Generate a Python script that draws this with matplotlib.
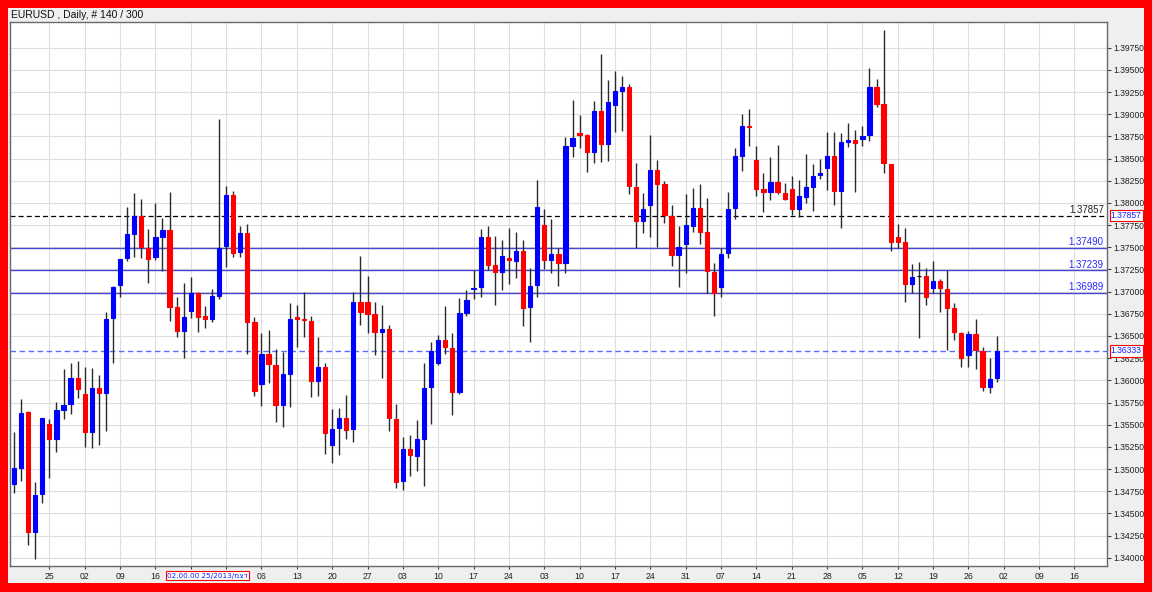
import numpy as np
import matplotlib
matplotlib.use("Agg")
import matplotlib.pyplot as plt
from matplotlib.patches import Rectangle
import matplotlib.transforms as mtransforms

# ---------------- data ----------------
opens = [1.34828, 1.35015, 1.35647, 1.34294, 1.34715, 1.35508, 1.35335, 1.35665, 1.35729, 1.36030,
         1.35846, 1.35421, 1.35910, 1.35861, 1.36699, 1.37075, 1.37375, 1.37650, 1.37856, 1.37495,
         1.37394, 1.37620, 1.37695, 1.36823, 1.36560, 1.36785, 1.36981, 1.36725, 1.36691, 1.36955,
         1.37518, 1.38089, 1.37451, 1.37657, 1.36661, 1.35955, 1.36293, 1.36173, 1.35722, 1.36068,
         1.36718, 1.36691, 1.36673, 1.35996, 1.36154, 1.35271, 1.35459, 1.35572, 1.35447, 1.36879,
         1.36879, 1.36748, 1.36541, 1.36575, 1.35560, 1.34869, 1.35222, 1.35151, 1.35335, 1.35921,
         1.36192, 1.36455, 1.36368, 1.35872, 1.36763, 1.37030, 1.37048, 1.37612, 1.37300, 1.37217,
         1.37375, 1.37345, 1.37458, 1.36823, 1.37075, 1.37751, 1.37357, 1.37424, 1.37319, 1.38645,
         1.38785, 1.38766, 1.38578, 1.39036, 1.38664, 1.39104, 1.39266, 1.39303, 1.38183, 1.37800,
         1.37977, 1.38371, 1.38213, 1.37856, 1.37413, 1.37537, 1.37744, 1.37939, 1.37668, 1.37225,
         1.37048, 1.37432, 1.37939, 1.38533, 1.38871, 1.38484, 1.38157, 1.38119, 1.38240, 1.38116,
         1.38153, 1.37928, 1.38071, 1.38183, 1.38311, 1.38390, 1.38529, 1.38138, 1.38691, 1.38709,
         1.38721, 1.38766, 1.39303, 1.39115, 1.38435, 1.37620, 1.37556, 1.37082, 1.37176, 1.37176,
         1.37037, 1.37120, 1.37030, 1.36812, 1.36530, 1.36286, 1.36518, 1.36331, 1.35929, 1.36030]
highs = [1.35414, 1.35790, 1.35650, 1.34857, 1.35580, 1.35560, 1.35752, 1.36128, 1.36192, 1.36218,
         1.36154, 1.36135, 1.36060, 1.36767, 1.37063, 1.37370, 1.37958, 1.38116, 1.38040, 1.37706,
         1.37995, 1.37826, 1.38123, 1.36943, 1.37101, 1.37169, 1.37000, 1.36838, 1.37026, 1.38942,
         1.38194, 1.38134, 1.37740, 1.37759, 1.36718, 1.36530, 1.36567, 1.36353, 1.36323, 1.36876,
         1.36849, 1.36992, 1.36725, 1.36492, 1.36191, 1.35677, 1.35684, 1.35835, 1.36992, 1.37405,
         1.37180, 1.36887, 1.36849, 1.36624, 1.35733, 1.35357, 1.35383, 1.35553, 1.36192, 1.36436,
         1.36511, 1.36838, 1.36530, 1.36924, 1.37018, 1.37244, 1.37702, 1.37740, 1.37631, 1.37582,
         1.37721, 1.37676, 1.37582, 1.37270, 1.38258, 1.37931, 1.37819, 1.37496, 1.38739, 1.39160,
         1.38991, 1.38773, 1.39153, 1.39675, 1.39386, 1.39487, 1.39435, 1.39341, 1.38454, 1.38116,
         1.38766, 1.38484, 1.38247, 1.37977, 1.37740, 1.38097, 1.38172, 1.38210, 1.38059, 1.37319,
         1.37488, 1.38120, 1.38623, 1.39003, 1.39059, 1.38642, 1.38341, 1.38514, 1.38653, 1.38228,
         1.38307, 1.38258, 1.38552, 1.38439, 1.38491, 1.38803, 1.38803, 1.38785, 1.38897, 1.38822,
         1.38867, 1.39517, 1.39397, 1.39950, 1.38440, 1.37759, 1.37721, 1.37308, 1.37330, 1.37270,
         1.37345, 1.37142, 1.37244, 1.36868, 1.36549, 1.36556, 1.36691, 1.36380, 1.36256, 1.36504]
lows = [1.34733, 1.34869, 1.34143, 1.33982, 1.34613, 1.34895, 1.35196, 1.35564, 1.35620, 1.35797,
        1.35252, 1.35241, 1.35271, 1.35429, 1.36192, 1.36936, 1.37345, 1.37394, 1.37375, 1.37093,
        1.37356, 1.37236, 1.36673, 1.36485, 1.36248, 1.36699, 1.36541, 1.36586, 1.36654, 1.36917,
        1.37281, 1.37394, 1.37394, 1.36297, 1.35823, 1.35714, 1.35966, 1.35534, 1.35478, 1.35696,
        1.36372, 1.36492, 1.35808, 1.35827, 1.35166, 1.35064, 1.35158, 1.35335, 1.35308, 1.36624,
        1.36530, 1.36285, 1.36022, 1.35429, 1.34782, 1.34763, 1.34921, 1.34978, 1.34809, 1.35508,
        1.36173, 1.36297, 1.35609, 1.35846, 1.36725, 1.36913, 1.36936, 1.37244, 1.36849, 1.37018,
        1.37082, 1.37150, 1.36616, 1.36428, 1.36936, 1.37255, 1.37206, 1.37067, 1.37214, 1.38521,
        1.38615, 1.38345, 1.38446, 1.38465, 1.38476, 1.38796, 1.38811, 1.38101, 1.37496, 1.37657,
        1.37612, 1.37499, 1.37770, 1.37289, 1.37056, 1.37206, 1.37668, 1.37537, 1.36988, 1.36725,
        1.36943, 1.37375, 1.37815, 1.38360, 1.38642, 1.38082, 1.37901, 1.38033, 1.38101, 1.38033,
        1.37864, 1.37845, 1.38003, 1.37913, 1.38266, 1.38146, 1.37977, 1.37721, 1.38627, 1.38127,
        1.38642, 1.38698, 1.39085, 1.38334, 1.37458, 1.37496, 1.36887, 1.36981, 1.36481, 1.36849,
        1.36981, 1.36774, 1.36342, 1.36455, 1.36146, 1.36146, 1.36124, 1.35880, 1.35853, 1.35985]
closes = [1.35008, 1.35635, 1.34294, 1.34707, 1.35572, 1.35339, 1.35665, 1.35722, 1.36030, 1.35902,
          1.35421, 1.35910, 1.35861, 1.36688, 1.37048, 1.37364, 1.37646, 1.37856, 1.37499, 1.37368,
          1.37612, 1.37695, 1.36830, 1.36560, 1.36718, 1.36981, 1.36710, 1.36695, 1.36951, 1.37495,
          1.38089, 1.37439, 1.37657, 1.36661, 1.35880, 1.36293, 1.36180, 1.35722, 1.36068, 1.36691,
          1.36695, 1.36680, 1.35996, 1.36154, 1.35402, 1.35451, 1.35572, 1.35440, 1.36879, 1.36767,
          1.36748, 1.36549, 1.36579, 1.35579, 1.34857, 1.35222, 1.35158, 1.35339, 1.35910, 1.36331,
          1.36455, 1.36372, 1.35872, 1.36763, 1.36906, 1.37045, 1.37612, 1.37300, 1.37217, 1.37402,
          1.37360, 1.37458, 1.36812, 1.37067, 1.37958, 1.37357, 1.37424, 1.37319, 1.38642, 1.38736,
          1.38770, 1.38578, 1.39036, 1.38664, 1.39142, 1.39262, 1.39303, 1.38191, 1.37800, 1.37932,
          1.38371, 1.38210, 1.37864, 1.37413, 1.37507, 1.37751, 1.37939, 1.37668, 1.37233, 1.36988,
          1.37424, 1.37932, 1.38533, 1.38871, 1.38852, 1.38157, 1.38119, 1.38240, 1.38119, 1.38040,
          1.37928, 1.38078, 1.38176, 1.38307, 1.38334, 1.38529, 1.38138, 1.38683, 1.38709, 1.38679,
          1.38758, 1.39303, 1.39115, 1.38446, 1.37563, 1.37563, 1.37082, 1.37169, 1.37176, 1.36936,
          1.37124, 1.37045, 1.36819, 1.36541, 1.36248, 1.36518, 1.36342, 1.35929, 1.36015, 1.36333]

# weekly date labels (Mondays), one every 5 daily bars starting at bar 5
week_labels = ["25", "02", "09", "16", "", "", "06", "13", "20", "27",
               "03", "10", "17", "24", "03", "10", "17", "24", "31", "07",
               "14", "21", "28", "05", "12", "19", "26", "02", "09", "16"]

price_ticks = [1.34000, 1.34250, 1.34500, 1.34750, 1.35000, 1.35250, 1.35500, 1.35750,
               1.36000, 1.36250, 1.36500, 1.36750, 1.37000, 1.37250, 1.37500, 1.37750,
               1.38000, 1.38250, 1.38500, 1.38750, 1.39000, 1.39250, 1.39500, 1.39750]

level_black = 1.37857
levels_blue = [1.37490, 1.37239, 1.36989]
current_price = 1.36333

title_text = "EURUSD , Daily, # 140 / 300"
cursor_label = "02.00.00 25/2013/מצד"
cursor_bar = 27.4

# ---------------- figure ----------------
W, H = 1152, 592
fig = plt.figure(figsize=(W / 100, H / 100), dpi=100, facecolor="#ff0000")
fig.patches.append(Rectangle((8 / W, 9 / H), 1136 / W, 575 / H, transform=fig.transFigure,
                             facecolor="#efefef", edgecolor="none", zorder=-5))

ax = fig.add_axes([10 / W, 1 - 566 / H, 1097 / W, 544 / H])
ax.set_zorder(2)
ax.set_facecolor("white")

o = np.array(opens); h = np.array(highs); l = np.array(lows); c = np.array(closes)
x = np.arange(len(o))

colors = np.where(c > o, "#0000ff", np.where(c < o, "#ff0000", "#000000"))

# wicks
ax.vlines(x, l, h, colors="#2a2a2a", linewidth=1.0, zorder=3)
# bodies
bottoms = np.minimum(o, c)
heights = np.abs(c - o)
ax.bar(x, heights, bottom=bottoms, width=0.6, color=colors, edgecolor=colors,
       linewidth=0.8, zorder=4)

# grid
week_pos = np.arange(len(week_labels)) * 5 + 5
ax.set_xticks(week_pos)
ax.set_xticklabels(week_labels)
ax.set_yticks(price_ticks)
ax.set_yticklabels([f"{p:.5f}" for p in price_ticks])
ax.grid(True, color="#dedede", linewidth=0.8, zorder=0)
ax.set_axisbelow(True)

ax.set_xlim(-0.57, 154.6)
ax.set_ylim(1.33907, 1.40040)

ax.yaxis.tick_right()
ax.tick_params(axis="y", length=3, width=0.8, color="#404040", labelsize=6.2,
               labelcolor="#202020", pad=1.5)
ax.tick_params(axis="x", length=2, width=0.8, color="#404040", labelsize=6.3,
               labelcolor="#202020", pad=2)
for lab in ax.get_xticklabels() + ax.get_yticklabels():
    lab.set_family("Liberation Sans")
for s in ax.spines.values():
    s.set_color("#6a6a6a")
    s.set_linewidth(1.0)

# horizontal levels
ax.axhline(level_black, color="black", linewidth=0.9, linestyle=(0, (4, 2.5)), zorder=2)
for lv in levels_blue:
    ax.axhline(lv, color="#4646d2", linewidth=1.0, zorder=2)
ax.axhline(current_price, color="#5a6cff", linewidth=1.0, linestyle=(0, (4, 2.5)), zorder=2)

trans = mtransforms.blended_transform_factory(ax.transAxes, ax.transData)
ax.text(0.997, level_black + 0.00012, f"{level_black:.5f}", transform=trans, ha="right",
        va="bottom", fontsize=7, color="#202020", family="Liberation Sans", zorder=5)
for lv in levels_blue:
    ax.text(0.997, lv + 0.00010, f"{lv:.5f}", transform=trans, ha="right", va="bottom",
            fontsize=7, color="#2828ff", family="Liberation Sans", zorder=5)

# price boxes on the right scale
for pv in (level_black, current_price):
    ax.text(1.0035, pv, f"{pv:.5f}", transform=trans, ha="left", va="center", fontsize=6.2,
            color="#1a1aff", family="Liberation Sans", clip_on=False, zorder=6,
            bbox=dict(boxstyle="square,pad=0.15", facecolor="white", edgecolor="#ff0000",
                      linewidth=0.8))

# cursor date box below the time axis
transx = mtransforms.blended_transform_factory(ax.transData, ax.transAxes)
ax.text(cursor_bar, -0.0175, cursor_label, transform=transx, ha="center", va="center",
        fontsize=5.2, color="#1a1aff", family="DejaVu Sans", clip_on=False, zorder=6,
        bbox=dict(boxstyle="square,pad=0.2", facecolor="white", edgecolor="#ff0000",
                  linewidth=0.8))

# chart title
fig.text(11 / W, 1 - 15.5 / H, title_text, ha="left", va="center", fontsize=7.5,
         color="#101010", family="Liberation Sans")

fig.savefig("out.png", dpi=100, facecolor=fig.get_facecolor())
